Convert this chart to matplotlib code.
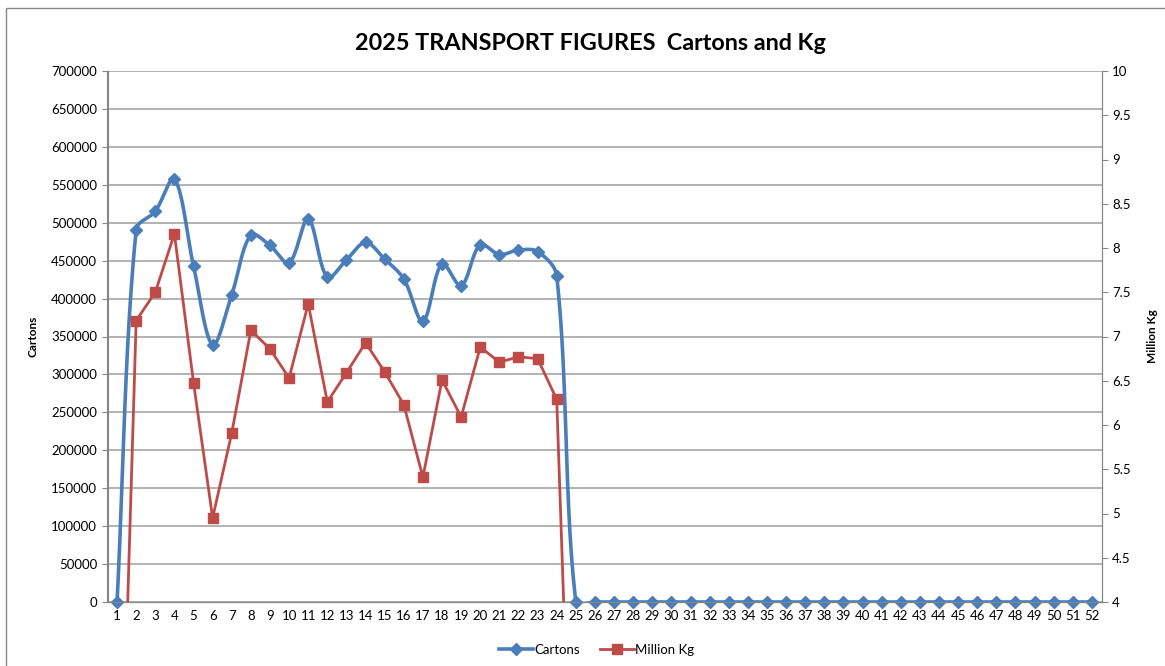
import numpy as np
from matplotlib import pyplot as plt
from matplotlib.patches import Rectangle

weeks = list(range(1, 53))
cartons = [0, 491000, 515000, 558000, 443000, 339000, 405000, 484000, 470000, 447000,
           505000, 428000, 451000, 474000, 452000, 426000, 370000, 446000, 417000, 471000,
           458000, 464000, 462000, 430000] + [0] * 28
million_kg = [0, 7.18, 7.50, 8.16, 6.48, 4.95, 5.91, 7.07, 6.86, 6.53,
              7.37, 6.26, 6.59, 6.93, 6.60, 6.23, 5.41, 6.51, 6.09, 6.88,
              6.71, 6.77, 6.75, 6.29] + [0] * 28

FONT = "Lato"
BLUE = "#4A7EBB"
RED = "#BE4B48"
GRID = "#A6A6A6"


def smooth(x, y, sx, sy, n=40):
    # bezier smoothing like excel: tangents scaled by chord lengths in screen space
    P = np.column_stack([np.asarray(x, float) * sx, np.asarray(y, float) * sy])
    Q = np.vstack([P[0], P, P[-1]])
    d = np.hypot(*np.diff(Q, axis=0).T)
    t = np.linspace(0, 1, n, endpoint=False)[:, None]
    pts = []
    for i in range(1, len(Q) - 2):
        p0, p1, p2, p3 = Q[i-1], Q[i], Q[i+1], Q[i+2]
        d0, d1, d2 = d[i-1], d[i], d[i+1]
        f1 = d1 / (d0 + d1) if d0 + d1 > 0 else 0
        f2 = d1 / (d1 + d2) if d1 + d2 > 0 else 0
        c1 = p1 + (p2 - p0) * f1 / 3
        c2 = p2 - (p3 - p1) * f2 / 3
        pts.append((1-t)**3 * p1 + 3*(1-t)**2*t * c1 + 3*(1-t)*t**2 * c2 + t**3 * p2)
    pts.append(P[-1:])
    pts = np.vstack(pts)
    return pts[:, 0] / sx, pts[:, 1] / sy


fig = plt.figure(figsize=(11.65, 6.66), dpi=100)
ax = fig.add_axes([107.5/1165, 1-602/666, 994/1165, 531/666])
ax2 = ax.twinx()

cx, cy = smooth(weeks, cartons, 994/52, 531/700000)
ax.plot(cx, cy, color=BLUE, lw=2.6, zorder=3)
ax.plot(weeks, cartons, ls="none", marker="D", ms=6.5, color=BLUE, clip_on=False, zorder=4)
ax2.plot(weeks, million_kg, color=RED, lw=2.0, marker="s", ms=7, zorder=3)

ax.set_xlim(0.5, 52.5)
ax.set_ylim(0, 700000)
ax.set_yticks(np.arange(0, 700001, 50000))
ax.set_xticks(weeks)
ax2.set_ylim(4, 10)
ax2.set_yticks(np.arange(4, 10.01, 0.5))
ax2.set_yticklabels([f"{v:g}" for v in np.arange(4, 10.01, 0.5)])

ax.grid(axis="y", color=GRID, lw=1.2)
ax.set_axisbelow(True)
for a in (ax, ax2):
    for s in a.spines.values():
        s.set_color("#868686")
    a.spines["top"].set_visible(False)
    a.tick_params(colors="#868686", labelcolor="black", labelsize=9.5, length=4, width=0.8)
    for lab in a.get_xticklabels() + a.get_yticklabels():
        lab.set_fontfamily(FONT)
ax.tick_params(axis="x", length=0, pad=6)

ax.set_ylabel("Cartons", fontfamily=FONT, fontweight="bold", fontsize=8.5, labelpad=9)
ax2.set_ylabel("Million Kg", fontfamily=FONT, fontweight="bold", fontsize=8.5, labelpad=12)

fig.text(0.507, 1-44/666, "2025 TRANSPORT FIGURES  Cartons and Kg", ha="center", va="center",
         fontfamily=FONT, fontweight="bold", fontsize=16.8)

h1 = plt.Line2D([], [], color=BLUE, lw=2.6, marker="D", ms=6.5)
h2 = plt.Line2D([], [], color=RED, lw=2.0, marker="s", ms=7)
fig.legend([h1, h2], ["Cartons", "Million Kg"], loc="center", bbox_to_anchor=(0.512, 1-650/666),
           ncol=2, frameon=False, prop={"family": FONT, "size": 9.5}, handlelength=2.6,
           handletextpad=0.1, columnspacing=1.5)

fig.patches.append(Rectangle((6/1165, -0.05), 1.1, 1-8/666+0.05, transform=fig.transFigure,
                             fill=False, edgecolor="#868686", lw=1))

fig.savefig("out.png", dpi=100)
